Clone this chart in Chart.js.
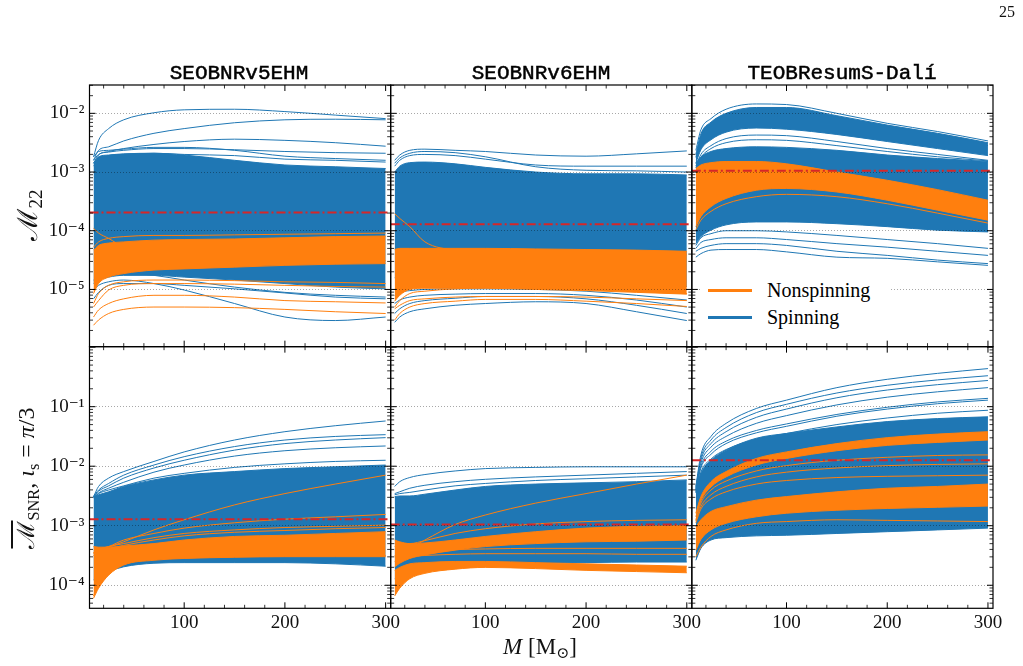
<!DOCTYPE html>
<html><head><meta charset="utf-8">
<script src="https://cdn.jsdelivr.net/npm/chart.js@4.4.1/dist/chart.umd.min.js"></script>
<style>
html,body{margin:0;padding:0;background:#fff;}
#wrap{position:relative;width:1023px;height:666px;overflow:hidden;}
canvas{position:absolute;left:0;top:0;}
.t{position:absolute;white-space:nowrap;color:#111;line-height:1;}
.title{font-family:'Liberation Mono','DejaVu Sans Mono',monospace;font-size:21px;top:63px;transform:translateX(-50%);color:#000;-webkit-text-stroke:0.5px #000;}
.serif{font-family:'Liberation Serif','DejaVu Serif',serif;}
.rot{transform:translate(-50%,-50%) rotate(-90deg);}
sub{font-size:68%;vertical-align:-0.28em;line-height:0;}
#legend{position:absolute;left:700px;top:274px;width:190px;height:58px;background:#fff;}
.lg{position:absolute;left:8px;height:20px;display:flex;align-items:center;font-size:20px;}
.lg span.ln{display:inline-block;width:44px;height:3px;margin-right:15px;}
</style></head><body>
<div id="wrap">
<canvas id="c" width="1023" height="666"></canvas>
<div class="t serif" style="left:999px;top:4px;font-size:16px;">25</div>
<div class="t title" style="left:239px;">SEOBNRv5EHM</div>
<div class="t title" style="left:541px;">SEOBNRv6EHM</div>
<div class="t title" style="left:842px;">TEOBResumS-Dalí</div>
<div class="t serif rot" style="left:28px;top:215px;font-size:28px;">ℳ<sub>22</sub></div>
<div class="t serif rot" style="left:26px;top:478px;font-size:24px;"><span style="text-decoration:overline">ℳ</span><sub>SNR</sub>, <i>ι</i><sub>s</sub> = <i>π</i>/3</div>
<div class="t serif" style="left:540px;top:646px;font-size:23px;transform:translate(-50%,-50%);"><i>M</i> [M<sub>⊙</sub>]</div>
<div id="legend" class="serif">
  <div class="lg" style="top:6px;"><span class="ln" style="background:#ff7f0e"></span>Nonspinning</div>
  <div class="lg" style="top:33px;"><span class="ln" style="background:#1f77b4"></span>Spinning</div>
</div>
</div>
<script>
// Total mass samples (solar masses)
const masses = [10, 15, 25, 40, 70, 100, 150, 200, 250, 300];
const xTickValues = [100, 200, 300];
const yTopTicks = [1e-5, 1e-4, 1e-3, 1e-2];
const yBotTicks = [1e-4, 1e-3, 1e-2, 1e-1];

// ---- values are log10 of the mismatch ----
// SEOBNRv5EHM, M22
const v5M22_spinUpper = [-2.85,-2.74,-2.71,-2.69,-2.68,-2.71,-2.80,-2.88,-2.91,-2.94];
const v5M22_spinLower = [-4.90,-4.84,-4.79,-4.76,-4.76,-4.79,-4.84,-4.90,-4.96,-4.99];
const v5M22_spinCurves = [
  [-2.74,-2.46,-2.26,-2.11,-1.99,-1.94,-1.93,-1.97,-2.03,-2.09],
  [-2.80,-2.63,-2.57,-2.47,-2.34,-2.26,-2.16,-2.11,-2.10,-2.11],
  [-2.85,-2.71,-2.65,-2.60,-2.53,-2.48,-2.44,-2.46,-2.50,-2.56],
  [-2.74,-2.65,-2.63,-2.61,-2.58,-2.58,-2.63,-2.73,-2.77,-2.80],
  [-2.80,-2.70,-2.66,-2.63,-2.60,-2.60,-2.62,-2.65,-2.67,-2.68],
  [-2.90,-2.80,-2.72,-2.70,-2.68,-2.70,-2.72,-2.78,-2.80,-2.83],
  [-5.01,-4.93,-4.87,-4.84,-4.90,-5.01,-5.24,-5.47,-5.53,-5.47],
  [-5.16,-5.05,-4.93,-4.90,-4.90,-4.93,-4.99,-5.06,-5.13,-5.16],
  [-4.84,-4.79,-4.73,-4.73,-4.76,-4.84,-4.96,-5.05,-5.10,-5.13]
];
const v5M22_nonUpper = [-4.33,-4.25,-4.21,-4.19,-4.16,-4.15,-4.14,-4.12,-4.10,-4.09];
const v5M22_nonLower = [-5.07,-4.90,-4.79,-4.73,-4.67,-4.65,-4.62,-4.59,-4.57,-4.56];
const v5M22_nonCurves = [
  [-3.96,-4.04,-4.13,-4.28,-4.39,-4.42,-4.45,-4.48,-4.50,-4.51],
  [-5.61,-5.52,-5.41,-5.34,-5.30,-5.30,-5.31,-5.34,-5.38,-5.41],
  [-5.47,-5.35,-5.24,-5.16,-5.10,-5.10,-5.13,-5.19,-5.21,-5.23],
  [-5.30,-5.19,-5.01,-4.93,-4.90,-4.90,-4.91,-4.93,-4.95,-4.96],
  [-5.24,-5.07,-4.93,-4.87,-4.84,-4.84,-4.85,-4.87,-4.88,-4.90],
  [-4.28,-4.19,-4.13,-4.10,-4.08,-4.08,-4.07,-4.06,-4.05,-4.04]
];
const v5M22_ref = -3.69;

// SEOBNRv6EHM, M22
const v6M22_spinUpper = [-3.00,-2.90,-2.84,-2.83,-2.86,-2.92,-3.00,-3.03,-3.03,-3.05];
const v6M22_spinLower = [-4.80,-4.75,-4.70,-4.68,-4.70,-4.75,-4.80,-4.85,-4.90,-4.95];
const v6M22_spinCurves = [
  [-2.80,-2.71,-2.63,-2.61,-2.63,-2.65,-2.71,-2.73,-2.69,-2.64],
  [-2.85,-2.76,-2.68,-2.65,-2.67,-2.74,-2.91,-2.97,-2.98,-3.00],
  [-2.90,-2.80,-2.72,-2.70,-2.72,-2.78,-2.88,-2.90,-2.90,-2.90],
  [-5.56,-5.47,-5.38,-5.33,-5.27,-5.24,-5.21,-5.24,-5.38,-5.53],
  [-5.41,-5.33,-5.24,-5.19,-5.15,-5.12,-5.12,-5.16,-5.27,-5.41],
  [-5.24,-5.18,-5.13,-5.10,-5.08,-5.07,-5.07,-5.10,-5.18,-5.30],
  [-5.10,-5.05,-5.02,-5.00,-4.99,-4.99,-5.00,-5.03,-5.10,-5.18]
];
const v6M22_nonUpper = [-4.32,-4.30,-4.30,-4.30,-4.30,-4.30,-4.31,-4.32,-4.33,-4.35];
const v6M22_nonLower = [-5.20,-5.10,-5.00,-4.98,-4.98,-4.98,-5.00,-5.02,-5.05,-5.08];
const v6M22_nonCurves = [
  [-3.71,-3.79,-3.93,-4.19,-4.33,-4.36,-4.39,-4.40,-4.40,-4.41],
  [-5.52,-5.41,-5.30,-5.24,-5.20,-5.17,-5.17,-5.20,-5.24,-5.29],
  [-5.33,-5.27,-5.19,-5.16,-5.13,-5.12,-5.12,-5.13,-5.16,-5.19],
  [-5.30,-5.19,-5.07,-5.03,-4.99,-4.97,-4.97,-5.00,-5.04,-5.07]
];
const v6M22_ref = -3.89;

// TEOBResumS-Dali, M22
const daliM22_spinUpper = [-2.85,-2.74,-2.65,-2.60,-2.57,-2.58,-2.63,-2.71,-2.77,-2.82];
const daliM22_spinLower = [-4.22,-4.10,-3.99,-3.90,-3.85,-3.85,-3.88,-3.93,-3.99,-4.02];
const daliM22_spinUpper2 = [-2.70,-2.35,-2.15,-2.00,-1.90,-1.90,-2.04,-2.20,-2.34,-2.50];
const daliM22_spinLower2 = [-2.85,-2.62,-2.45,-2.32,-2.25,-2.27,-2.36,-2.48,-2.60,-2.72];
const daliM22_spinCurves = [
  [-2.63,-2.28,-2.09,-1.93,-1.84,-1.85,-2.00,-2.17,-2.31,-2.47],
  [-2.75,-2.45,-2.25,-2.12,-2.03,-2.03,-2.13,-2.27,-2.40,-2.55],
  [-2.90,-2.70,-2.55,-2.43,-2.37,-2.38,-2.48,-2.60,-2.70,-2.80],
  [-2.93,-2.75,-2.60,-2.50,-2.45,-2.46,-2.55,-2.65,-2.74,-2.81],
  [-4.45,-4.39,-4.33,-4.32,-4.32,-4.36,-4.45,-4.47,-4.53,-4.59],
  [-4.35,-4.30,-4.25,-4.22,-4.22,-4.25,-4.35,-4.42,-4.50,-4.56],
  [-4.30,-4.20,-4.15,-4.12,-4.12,-4.15,-4.22,-4.28,-4.35,-4.42],
  [-4.25,-4.12,-4.05,-4.00,-4.00,-4.02,-4.08,-4.15,-4.22,-4.30]
];
const daliM22_nonUpper = [-2.94,-2.88,-2.84,-2.82,-2.82,-2.86,-3.00,-3.14,-3.30,-3.48];
const daliM22_nonLower = [-3.93,-3.76,-3.59,-3.45,-3.31,-3.28,-3.34,-3.48,-3.65,-3.82];
const daliM22_nonCurves = [
  [-3.98,-3.82,-3.67,-3.54,-3.42,-3.38,-3.42,-3.54,-3.70,-3.87]
];
const daliM22_ref = -2.98;

// SEOBNRv5EHM, SNR-weighted (iota = pi/3)
const v5SNR_spinUpper = [-2.51,-2.48,-2.43,-2.34,-2.23,-2.15,-2.09,-2.04,-2.01,-1.98];
const v5SNR_spinLower = [-3.91,-3.85,-3.77,-3.69,-3.63,-3.62,-3.62,-3.62,-3.64,-3.68];
const v5SNR_spinCurves = [
  [-2.51,-2.34,-2.20,-2.09,-1.92,-1.76,-1.56,-1.42,-1.32,-1.24],
  [-2.51,-2.40,-2.29,-2.15,-1.98,-1.84,-1.67,-1.56,-1.50,-1.47],
  [-2.52,-2.42,-2.33,-2.20,-2.03,-1.90,-1.73,-1.62,-1.56,-1.52],
  [-2.53,-2.45,-2.37,-2.27,-2.10,-1.98,-1.83,-1.74,-1.69,-1.66],
  [-2.53,-2.46,-2.40,-2.33,-2.20,-2.12,-2.02,-1.96,-1.92,-1.90]
];
const v5SNR_nonUpper = [-3.35,-3.36,-3.36,-3.34,-3.30,-3.24,-3.18,-3.16,-3.13,-3.10];
const v5SNR_nonLower = [-4.22,-4.05,-3.83,-3.66,-3.58,-3.55,-3.53,-3.52,-3.52,-3.52];
const v5SNR_nonCurves = [
  [-3.46,-3.42,-3.36,-3.27,-3.07,-2.90,-2.65,-2.46,-2.30,-2.15],
  [-3.46,-3.40,-3.35,-3.24,-3.13,-3.04,-2.95,-2.89,-2.85,-2.81],
  [-3.45,-3.40,-3.35,-3.30,-3.20,-3.13,-3.07,-3.03,-3.01,-2.99],
  [-3.50,-3.44,-3.39,-3.33,-3.24,-3.17,-3.11,-3.08,-3.05,-3.03],
  [-4.18,-3.95,-3.75,-3.62,-3.56,-3.54,-3.52,-3.51,-3.50,-3.50]
];
const v5SNR_ref = -2.89;

// SEOBNRv6EHM, SNR-weighted
const v6SNR_spinUpper = [-2.51,-2.50,-2.50,-2.47,-2.40,-2.34,-2.30,-2.28,-2.26,-2.23];
const v6SNR_spinLower = [-3.89,-3.83,-3.77,-3.73,-3.69,-3.66,-3.63,-3.62,-3.61,-3.61];
const v6SNR_spinCurves = [
  [-2.34,-2.26,-2.19,-2.14,-2.08,-2.04,-2.02,-2.01,-2.01,-2.01],
  [-2.46,-2.43,-2.37,-2.32,-2.26,-2.22,-2.18,-2.15,-2.12,-2.09],
  [-2.48,-2.46,-2.44,-2.40,-2.33,-2.29,-2.24,-2.21,-2.18,-2.15]
];
const v6SNR_nonUpperA = [-3.24,-3.27,-3.30,-3.29,-3.24,-3.18,-3.10,-3.04,-3.01,-3.00];
const v6SNR_nonLowerA = [-3.69,-3.63,-3.55,-3.49,-3.41,-3.35,-3.30,-3.27,-3.26,-3.24];
const v6SNR_nonUpperB = [-3.75,-3.70,-3.64,-3.62,-3.60,-3.60,-3.62,-3.64,-3.66,-3.68];
const v6SNR_nonLowerB = [-4.18,-4.05,-3.89,-3.80,-3.73,-3.70,-3.72,-3.75,-3.77,-3.79];
const v6SNR_nonCurves = [
  [-3.52,-3.46,-3.38,-3.24,-2.98,-2.82,-2.62,-2.46,-2.30,-2.15],
  [-3.30,-3.30,-3.30,-3.25,-3.13,-3.05,-2.97,-2.93,-2.91,-2.90],
  [-3.35,-3.35,-3.36,-3.33,-3.25,-3.20,-3.14,-3.10,-3.08,-3.06],
  [-3.50,-3.48,-3.45,-3.42,-3.40,-3.39,-3.38,-3.38,-3.38,-3.38],
  [-3.60,-3.56,-3.52,-3.50,-3.48,-3.47,-3.47,-3.47,-3.48,-3.48]
];
const v6SNR_ref = -2.98;

// TEOBResumS-Dali, SNR-weighted
const daliSNR_spinUpper = [-2.40,-2.12,-1.90,-1.73,-1.53,-1.45,-1.34,-1.25,-1.20,-1.17];
const daliSNR_spinLower = [-3.58,-3.38,-3.24,-3.20,-3.17,-3.16,-3.13,-3.10,-3.07,-3.04];
const daliSNR_spinCurves = [
  [-2.34,-1.81,-1.50,-1.28,-1.03,-0.89,-0.68,-0.54,-0.44,-0.36],
  [-2.36,-1.86,-1.56,-1.35,-1.10,-0.96,-0.77,-0.64,-0.55,-0.48],
  [-2.38,-1.90,-1.62,-1.42,-1.18,-1.04,-0.85,-0.72,-0.63,-0.56],
  [-2.40,-1.95,-1.68,-1.50,-1.28,-1.15,-0.97,-0.84,-0.75,-0.68],
  [-2.42,-2.00,-1.75,-1.58,-1.40,-1.29,-1.13,-1.01,-0.92,-0.86],
  [-2.43,-2.03,-1.80,-1.62,-1.44,-1.33,-1.16,-1.04,-0.95,-0.89],
  [-2.45,-2.10,-1.88,-1.72,-1.55,-1.45,-1.30,-1.19,-1.11,-1.06]
];
const daliSNR_nonUpperA = [-2.79,-2.51,-2.26,-2.09,-1.87,-1.76,-1.62,-1.52,-1.46,-1.42];
const daliSNR_nonLowerA = [-2.85,-2.58,-2.35,-2.18,-1.98,-1.87,-1.74,-1.65,-1.60,-1.56];
const daliSNR_nonUpperB = [-3.02,-2.90,-2.76,-2.68,-2.57,-2.51,-2.43,-2.37,-2.34,-2.30];
const daliSNR_nonLowerB = [-3.41,-3.23,-3.07,-2.96,-2.85,-2.79,-2.74,-2.71,-2.69,-2.67];
const daliSNR_nonCurves = [
  [-3.52,-3.36,-3.18,-3.07,-2.96,-2.93,-2.90,-2.91,-2.92,-2.93],
  [-2.90,-2.62,-2.40,-2.25,-2.08,-1.99,-1.90,-1.85,-1.82,-1.81],
  [-2.95,-2.72,-2.55,-2.43,-2.30,-2.24,-2.19,-2.17,-2.16,-2.15],
  [-2.92,-2.68,-2.48,-2.34,-2.18,-2.10,-2.03,-1.99,-1.97,-1.96]
];
const daliSNR_ref = -1.90;

const BLUE = '#1f77b4', ORANGE = '#ff7f0e', RED = '#d62728';
const FONT = "'Liberation Serif','DejaVu Serif',serif";

const panels = [
  {x:'x0', y:'yTop', spinBands:[[v5M22_spinUpper, v5M22_spinLower]], spin:v5M22_spinCurves, nonBands:[[v5M22_nonUpper, v5M22_nonLower]], non:v5M22_nonCurves, ref:v5M22_ref},
  {x:'x1', y:'yTop', spinBands:[[v6M22_spinUpper, v6M22_spinLower]], spin:v6M22_spinCurves, nonBands:[[v6M22_nonUpper, v6M22_nonLower]], non:v6M22_nonCurves, ref:v6M22_ref},
  {x:'x2', y:'yTop', spinBands:[[daliM22_spinUpper, daliM22_spinLower],[daliM22_spinUpper2, daliM22_spinLower2]], spin:daliM22_spinCurves, nonBands:[[daliM22_nonUpper, daliM22_nonLower]], non:daliM22_nonCurves, ref:daliM22_ref},
  {x:'x0', y:'yBot', spinBands:[[v5SNR_spinUpper, v5SNR_spinLower]], spin:v5SNR_spinCurves, nonBands:[[v5SNR_nonUpper, v5SNR_nonLower]], non:v5SNR_nonCurves, ref:v5SNR_ref},
  {x:'x1', y:'yBot', spinBands:[[v6SNR_spinUpper, v6SNR_spinLower]], spin:v6SNR_spinCurves, nonBands:[[v6SNR_nonUpperA, v6SNR_nonLowerA],[v6SNR_nonUpperB, v6SNR_nonLowerB]], non:v6SNR_nonCurves, ref:v6SNR_ref},
  {x:'x2', y:'yBot', spinBands:[[daliSNR_spinUpper, daliSNR_spinLower]], spin:daliSNR_spinCurves, nonBands:[[daliSNR_nonUpperA, daliSNR_nonLowerA],[daliSNR_nonUpperB, daliSNR_nonLowerB]], non:daliSNR_nonCurves, ref:daliSNR_ref}
];

const toPoints = arr => masses.map((m, i) => ({x: m, y: Math.pow(10, arr[i])}));
const datasets = [];
function curve(arr, color, order, p, extra) {
  datasets.push(Object.assign({data: toPoints(arr), borderColor: color, backgroundColor: color, borderWidth: 1,
    pointRadius: 0, fill: false, cubicInterpolationMode: 'monotone', order, xAxisID: p.x, yAxisID: p.y}, extra || {}));
}
function band(up, lo, color, order, p) {
  curve(lo, color, order, p);
  curve(up, color, order, p, {fill: '-1'});
}
panels.forEach(p => {
  p.spinBands.forEach(b => band(b[0], b[1], BLUE, 30, p));
  p.spin.forEach(c => curve(c, BLUE, 30, p));
  p.nonBands.forEach(b => band(b[0], b[1], ORANGE, 20, p));
  p.non.forEach(c => curve(c, ORANGE, 20, p));
  const v = Math.pow(10, p.ref);
  datasets.push({data: [{x: 6, y: v}, {x: 305, y: v}], borderColor: RED, borderWidth: 2, borderDash: [9, 3, 2, 3],
    pointRadius: 0, fill: false, order: 1, xAxisID: p.x, yAxisID: p.y});
});

const supMap = {'-':'⁻','0':'⁰','1':'¹','2':'²','3':'³','4':'⁴','5':'⁵','6':'⁶','7':'⁷','8':'⁸','9':'⁹'};
const powLabel = v => '10' + String(Math.round(Math.log10(v))).split('').map(c => supMap[c]).join('');

function xScale() {
  return {type: 'linear', position: 'bottom', stack: 'xs', stackWeight: 1, min: 6, max: 305, bounds: 'data',
    grid: {display: false, drawTicks: false}, border: {display: false},
    ticks: {font: {family: FONT, size: 19}, color: '#111', padding: 3, maxRotation: 0, autoSkip: false},
    afterBuildTicks: s => { s.ticks = xTickValues.map(v => ({value: v})); },
    afterFit: s => { s.height = 57.7; }};
}
function yScale(min, max, tickVals) {
  return {type: 'logarithmic', position: 'left', stack: 'ys', stackWeight: 1, min, max, bounds: 'data',
    grid: {color: 'rgba(0,0,0,0.38)', lineWidth: 0.9, drawTicks: false, z: 1, borderDash: [1, 2]},
    border: {display: false, dash: [1, 2]},
    ticks: {font: {family: FONT, size: 19}, color: '#111', padding: 5, callback: v => powLabel(v)},
    afterBuildTicks: s => { s.ticks = tickVals.map(v => ({value: v})); },
    afterFit: s => { s.width = 89.5; }};
}

const frameTicks = {
  id: 'frameTicks',
  afterDraw(chart) {
    const ctx = chart.ctx;
    ctx.save();
    ctx.strokeStyle = '#000';
    ['x0','x1','x2'].forEach(xid => ['yTop','yBot'].forEach(yid => {
      const xs = chart.scales[xid], ys = chart.scales[yid];
      const L = xs.left, R = xs.right, T = ys.top, B = ys.bottom;
      const seg = (x1, y1, x2, y2) => { ctx.moveTo(x1, y1); ctx.lineTo(x2, y2); };
      for (let m = 20; m <= 300; m += 20) {
        const px = xs.getPixelForValue(m);
        const len = (m % 100 === 0) ? 6 : 3.5;
        ctx.beginPath(); ctx.lineWidth = (m % 100 === 0) ? 1 : 0.8;
        seg(px, B, px, B - len); seg(px, T, px, T + len); ctx.stroke();
      }
      const k0 = Math.floor(Math.log10(ys.min)), k1 = Math.ceil(Math.log10(ys.max));
      for (let k = k0; k <= k1; k++) {
        for (let d = 1; d <= 9; d++) {
          const v = d * Math.pow(10, k);
          if (v < ys.min || v > ys.max) continue;
          const py = ys.getPixelForValue(v);
          const len = d === 1 ? 6 : 3.5;
          ctx.beginPath(); ctx.lineWidth = d === 1 ? 1 : 0.8;
          seg(L, py, L + len, py); seg(R, py, R - len, py); ctx.stroke();
        }
      }
      ctx.lineWidth = 1.2;
      ctx.strokeRect(L, T, R - L, B - T);
    }));
    ctx.restore();
  }
};

new Chart(document.getElementById('c'), {
  type: 'line',
  data: {datasets},
  options: {
    responsive: false, animation: false, devicePixelRatio: 1, parsing: true,
    layout: {padding: {left: 0, right: 30, top: 85, bottom: 0}, autoPadding: false},
    plugins: {legend: {display: false}, tooltip: {enabled: false}},
    scales: {
      yBot: yScale(4.1e-5, 1.02, yBotTicks),
      yTop: yScale(1.06e-6, 3.04e-2, yTopTicks),
      x0: xScale(), x1: xScale(), x2: xScale()
    }
  },
  plugins: [frameTicks]
});
</script>
</body></html>
